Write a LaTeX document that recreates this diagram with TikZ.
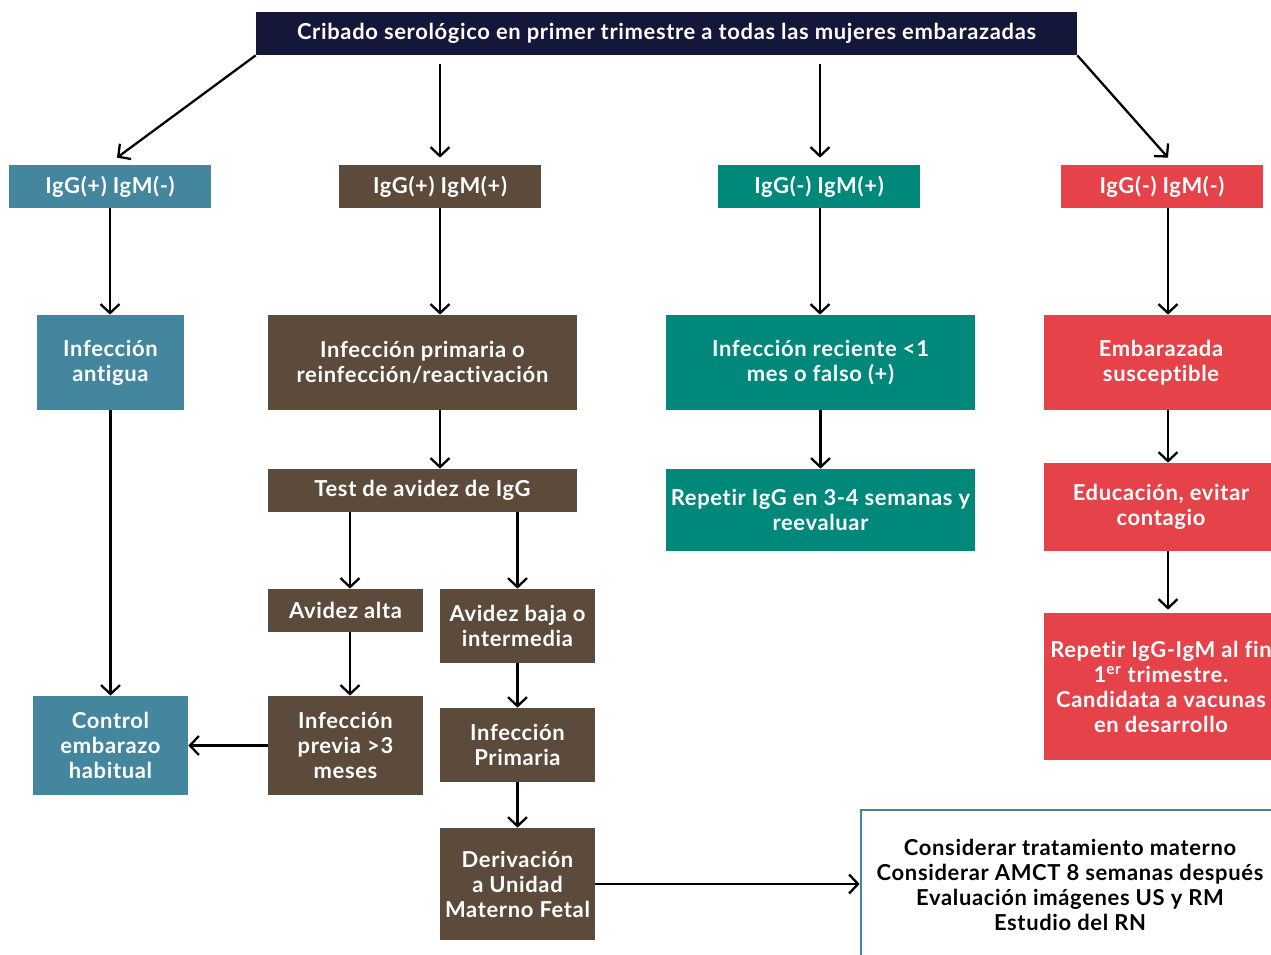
\documentclass[tikz,border=0pt]{standalone}
\usepackage{fontspec}
\setmainfont{Lato}[LetterSpace=3, Ligatures=NoCommon]
\usetikzlibrary{arrows.meta}
\definecolor{navy}{HTML}{14163A}
\definecolor{azul}{HTML}{43869E}
\definecolor{cafe}{HTML}{5C4A3B}
\definecolor{verde}{HTML}{00897B}
\definecolor{rojo}{HTML}{E5424A}
\begin{document}
\begin{tikzpicture}[x=0.02cm, y=-0.02cm,
    every node/.style={font=\bfseries\fontsize{12.5}{14.2}\selectfont},
    box/.style={text=white, align=center, inner sep=0pt},
    arr/.style={line width=1.3pt, -{Straight Barb[length=1.8mm,width=3.8mm,line width=1.3pt]}}]

    \useasboundingbox (0,0) rectangle (1271,954);
    \clip (0,0) rectangle (1271,954);

    % Screening block
    \node[box, fill=navy, minimum width=16.42cm, minimum height=0.86cm] (top) at (666.5,33.5)
        {Cribado serológico en primer trimestre a todas las mujeres embarazadas};

    % Serology result blocks
    \node[box, fill=azul, minimum width=4.04cm, minimum height=0.86cm] (igpm) at (110,186.5) {IgG(+) IgM(-)};
    \node[box, fill=cafe, minimum width=4.04cm, minimum height=0.86cm] (igpp) at (440,186.5) {IgG(+) IgM(+)};
    \node[box, fill=verde, minimum width=4.04cm, minimum height=0.86cm] (igmp) at (819,186.5) {IgG(-) IgM(+)};
    \node[box, fill=rojo, minimum width=4.04cm, minimum height=0.86cm] (igmm) at (1162,186.5) {IgG(-) IgM(-)};

    % Second row
    \node[box, fill=azul, minimum width=2.94cm, minimum height=1.9cm] (antigua) at (110.5,362.5) {Infección\\antigua};
    \node[box, fill=cafe, minimum width=6.18cm, minimum height=1.9cm] (infprim) at (422.5,362.5) {Infección primaria o\\reinfección/reactivación};
    \node[box, fill=verde, minimum width=6.18cm, minimum height=1.9cm] (reciente) at (820.5,362.5) {Infección reciente <1\\mes o falso (+)};
    \node[box, fill=rojo, minimum width=4.68cm, minimum height=1.9cm] (suscep) at (1161,362.5) {Embarazada\\susceptible};

    % Third row
    \node[box, fill=cafe, minimum width=6.18cm, minimum height=0.86cm] (test) at (422.5,490.5) {Test de avidez de IgG};
    \node[box, fill=verde, minimum width=6.18cm, minimum height=1.64cm] (repetir) at (820.5,510) {Repetir IgG en 3-4 semanas y\\reevaluar};
    \node[box, fill=rojo, minimum width=4.68cm, minimum height=1.76cm] (educ) at (1161,507) {Educación, evitar\\contagio};

    % Avidity branch
    \node[box, fill=cafe, minimum width=3.1cm, minimum height=0.86cm] (alta) at (345.5,610.5) {Avidez alta};
    \node[box, fill=cafe, minimum width=3.1cm, minimum height=1.48cm] (baja) at (517.5,626) {Avidez baja o\\intermedia};
    \node[box, fill=rojo, minimum width=4.68cm, minimum height=2.94cm] (vacuna) at (1161,686.5)
        {Repetir IgG-IgM al fin\\1\textsuperscript{er} trimestre.\\Candidata a vacunas\\en desarrollo};

    \node[box, fill=azul, minimum width=3.1cm, minimum height=1.98cm] (control) at (110.5,745.5) {Control\\embarazo\\habitual};
    \node[box, fill=cafe, minimum width=3.1cm, minimum height=1.98cm] (previa) at (345.5,745.5) {Infección\\previa >3\\meses};
    \node[box, fill=cafe, minimum width=3.1cm, minimum height=1.48cm] (primaria) at (517.5,745) {Infección\\Primaria};
    \node[box, fill=cafe, minimum width=3.1cm, minimum height=2.24cm] (deriv) at (517.5,884) {Derivación\\a Unidad\\Materno Fetal};

    % Treatment block
    \node[box, text=black, draw=azul, line width=1.6pt, fill=white, minimum width=8.36cm, minimum height=3.0cm] (trat) at (1070,885)
        {Considerar tratamiento materno\\Considerar AMCT 8 semanas después\\Evaluación imágenes US y RM\\Estudio del RN};

    % Arrows from screening
    \draw[arr] (top.south west) -- ([xshift=0.14cm,yshift=0.14cm]igpm.north);
    \draw[arr] ([yshift=-0.18cm]top.south -| igpp.north) -- ([yshift=0.14cm]igpp.north);
    \draw[arr] ([yshift=-0.18cm,xshift=0.02cm]top.south -| igmp.north) -- ([xshift=0.02cm,yshift=0.14cm]igmp.north);
    \draw[arr] (top.south east) -- ([xshift=0.12cm,yshift=0.14cm]igmm.north);

    % Left column
    \draw[arr] (igpm.south) -- (igpm.south |- antigua.north);
    \draw[arr] (antigua.south) -- (control.north);
    \draw[arr] (previa.west) -- (control.east);

    % IgG(+) IgM(+) column
    \draw[arr] (igpp.south) -- (igpp.south |- infprim.north);
    \draw[arr] (infprim.south -| igpp.south) -- (test.north -| igpp.south);
    \draw[arr] ([xshift=0.09cm]test.south -| alta.north) -- ([xshift=0.09cm]alta.north);
    \draw[arr] (test.south -| baja.north) -- (baja.north);
    \draw[arr] ([xshift=0.09cm]alta.south) -- ([xshift=0.09cm]previa.north);
    \draw[arr] (baja.south) -- (primaria.north);
    \draw[arr] (primaria.south) -- (deriv.north);
    \draw[arr] (deriv.east) -- (trat.west |- deriv.east);

    % IgG(-) IgM(+) column
    \draw[arr] ([xshift=0.02cm]igmp.south) -- ([xshift=0.02cm]igmp.south |- reciente.north);
    \draw[arr] (reciente.south) -- (repetir.north);

    % IgG(-) IgM(-) column
    \draw[arr] ([xshift=0.12cm]igmm.south) -- ([xshift=0.12cm]igmm.south |- suscep.north);
    \draw[arr] ([xshift=0.14cm]suscep.south) -- ([xshift=0.14cm]educ.north);
    \draw[arr] ([xshift=0.14cm]educ.south) -- ([xshift=0.14cm,yshift=0.06cm]vacuna.north);

\end{tikzpicture}
\end{document}
